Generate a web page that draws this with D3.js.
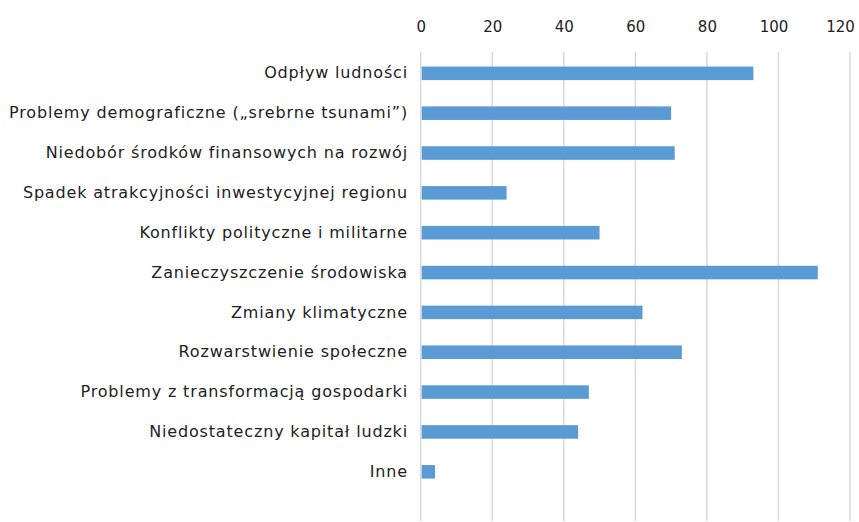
<!DOCTYPE html>
<html><head><meta charset="utf-8">
<script src="https://cdn.jsdelivr.net/npm/d3@7"></script>
<style>body{margin:0;background:#fff}svg{display:block}text{font-family:"DejaVu Sans",sans-serif;fill:#222}</style>
</head><body><svg id="c" width="859" height="522"></svg>
<script>
const categories = ["Odpływ ludności","Problemy demograficzne („srebrne tsunami”)","Niedobór środków finansowych na rozwój","Spadek atrakcyjności inwestycyjnej regionu","Konflikty polityczne i militarne","Zanieczyszczenie środowiska","Zmiany klimatyczne","Rozwarstwienie społeczne","Problemy z transformacją gospodarki","Niedostateczny kapitał ludzki","Inne"];
const values = [93,70,71,24,50,111,62,73,47,44,4];
const ticks = [0,20,40,60,80,100,120];

const svg = d3.select("#c");
const x = d3.scaleLinear().domain([0,120]).range([420.7,850]);
const y = d3.scaleBand().domain(categories).range([53.4,491.7]).paddingInner(0.66).paddingOuter(0.33);

svg.append("g").selectAll("line").data(ticks).join("line")
  .attr("x1",d=>x(d)).attr("x2",d=>x(d)).attr("y1",52).attr("y2",521)
  .attr("stroke","#d9d9d9").attr("stroke-width",1.5);

const ax = svg.append("g").attr("transform","translate(0,27)")
  .call(d3.axisTop(x).tickValues(ticks).tickSize(0).tickPadding(0));
ax.select(".domain").remove();
ax.selectAll("text").attr("font-size",15).attr("dy","0.35em")
  .attr("dx",d=>d===120?-10:d===100?-5:0)
  .style("font-family","'DejaVu Sans',sans-serif").attr("fill","#222");

svg.append("g").selectAll("rect").data(values).join("rect")
  .attr("x",x(0)+1).attr("y",(d,i)=>y(categories[i]))
  .attr("width",d=>x(d)-x(0)-1).attr("height",y.bandwidth())
  .attr("fill","#5b9bd5");

const ay = svg.append("g").attr("transform","translate(408,0)")
  .call(d3.axisLeft(y).tickSize(0).tickPadding(0));
ay.select(".domain").remove();
const lbl = ay.selectAll("text").attr("font-size",16).style("font-family","'DejaVu Sans',sans-serif").attr("fill","#222");
let maxW = 0, maxN = 1;
lbl.each(function(d){const w=this.getComputedTextLength(); if(w>maxW){maxW=w;maxN=d.length;}});
const ls = Math.max(-0.5, Math.min(1, (399-maxW)/maxN));
lbl.style("letter-spacing", ls+"px");
</script></body></html>
